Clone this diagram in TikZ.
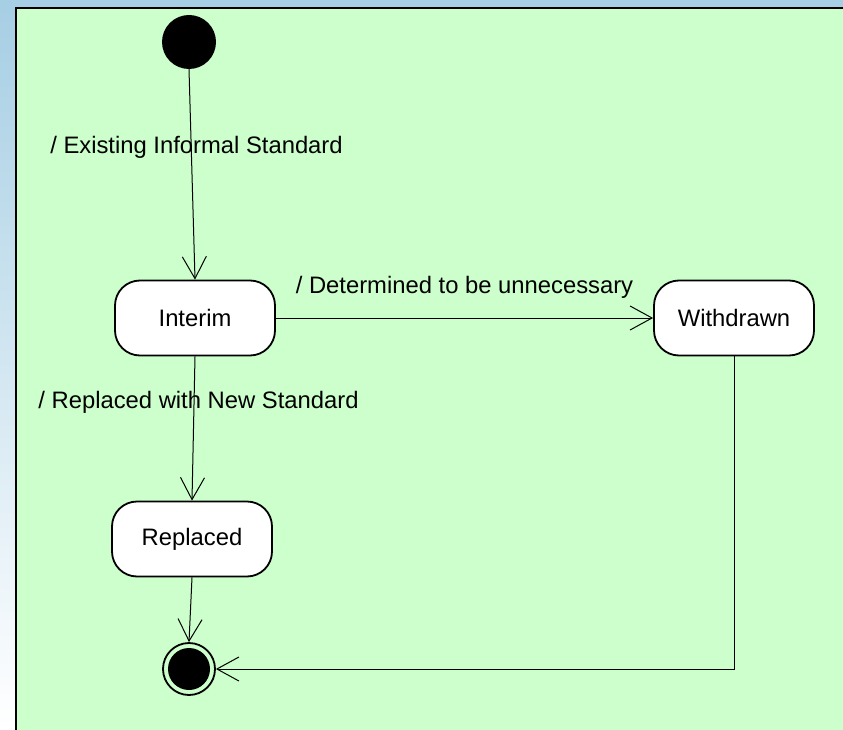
\documentclass[tikz,border=0pt]{standalone}
\usepackage{fontspec}
\setmainfont{Liberation Sans}
\usetikzlibrary{arrows.meta}
\definecolor{bgblue}{RGB}{166,206,228}
\definecolor{panelgreen}{RGB}{204,255,204}
\begin{document}
\begin{tikzpicture}[x=1pt,y=-1pt,
  state/.style={draw=black,line width=1.8pt,fill=white,rounded corners=25pt,minimum width=160pt,minimum height=75pt,font=\fontsize{23.8}{28}\selectfont,inner sep=0pt},
  conn/.style={draw=black,line width=1pt,-{Straight Barb[length=22pt,width=24pt,line width=1pt]}},
  lbl/.style={font=\fontsize{23.8}{28}\selectfont,inner sep=0pt}]
\useasboundingbox (0,0) rectangle (843,730);
\shade[top color=bgblue,bottom color=white] (0,0) rectangle (843,730);
\fill[panelgreen] (16,8) rectangle (845,732);
\draw[line width=2.5pt,black] (16,733) -- (16,8) -- (846,8);
\node[circle,fill=black,minimum size=54pt,inner sep=0pt] (init) at (189,42) {};
\node[state] (interim) at (195,318) {Interim};
\node[state] (withdrawn) at (734,318) {Withdrawn};
\node[state] (replaced) at (192,539) {Replaced};
\node[circle,draw=black,line width=1.8pt,fill=panelgreen,minimum size=52pt,inner sep=0pt] (final) at (189,669) {};
\node[circle,fill=black,minimum size=42pt,inner sep=0pt] (finalin) at (189,669) {};
\draw[conn] (init.south) -- (interim.north);
\draw[conn] (interim.east) -- (withdrawn.west);
\draw[conn] (interim.south) -- (replaced.north);
\draw[conn] (replaced.south) -- (final.north);
\coordinate (corner) at (withdrawn.south |- final.east);
\draw[conn] (withdrawn.south) -- (corner) -- (final.east);
\node[lbl] (l1) at (196.5,147) {/ Existing Informal Standard};
\node[lbl] (l2) at (464.5,287) {/ Determined to be unnecessary};
\node[lbl] (l3) at (198.5,402) {/ Replaced with New Standard};
\end{tikzpicture}
\end{document}
